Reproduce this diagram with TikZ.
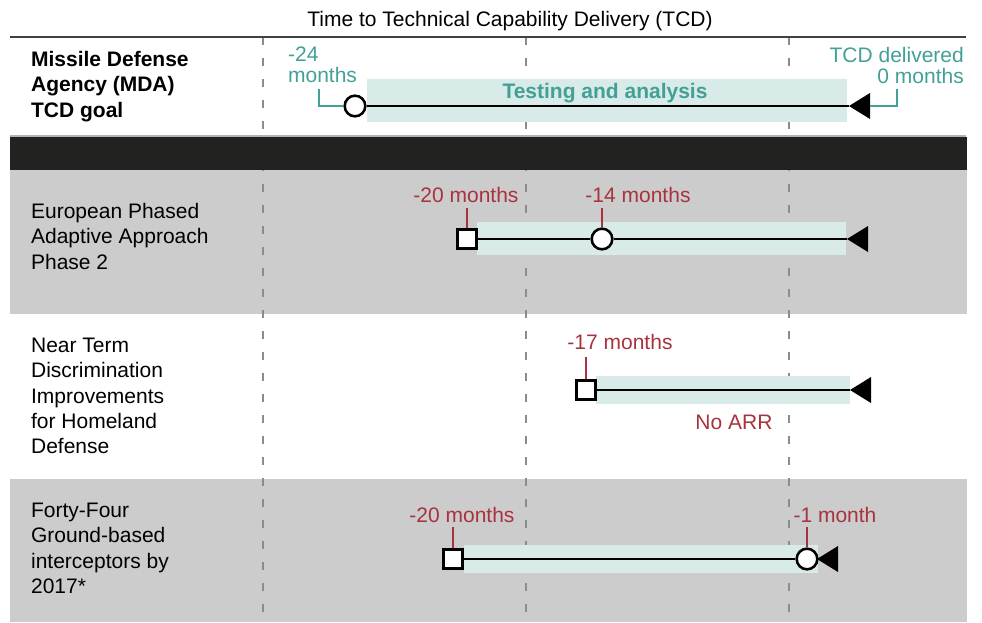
\documentclass[tikz,border=0pt]{standalone}
\usepackage{fontspec}
\setmainfont{Liberation Sans}
\usetikzlibrary{shapes.geometric}
\usetikzlibrary{calc}
\definecolor{tealtext}{HTML}{43A096}
\definecolor{tealfill}{HTML}{D8EBE8}
\definecolor{redtext}{HTML}{A8323E}
\definecolor{rowgray}{HTML}{CCCCCC}
\definecolor{barblack}{HTML}{222320}
\tikzset{every picture/.style={line width=1.7pt}}

\begin{document}
\begin{tikzpicture}[x=0.75pt, y=-0.75pt,
  every node/.style={font=\fontsize{15.75}{19}\selectfont, inner sep=0pt},
  ring/.style={draw, circle, fill=white, minimum size=15.5pt, line width=1.9pt},
  sqbox/.style={draw, rectangle, fill=white, minimum size=14.25pt, line width=2pt},
  endtri/.style={isosceles triangle, shape border rotate=180, isosceles triangle stretches,
    fill=black, outer sep=0pt, minimum width=19.5pt, minimum height=15.75pt, anchor=apex},
  rowlab/.style={anchor=north west, align=left},
  redlab/.style={text=redtext, anchor=base},
  redtick/.style={draw=redtext, line width=1.5pt},
  tealline/.style={draw=tealtext, line width=1.5pt}]

\useasboundingbox (0,0) rectangle (982,622);

% rows, grid and header
\foreach \y / \h in {170/314, 479/622}
  \fill[rowgray] (10,\y) rectangle (967,\h);
\foreach \x in {263,526,789}
  \draw[black!45, line width=1pt, dash pattern=on 6pt off 9.75pt] (\x,37) -- (\x,622);
\fill[barblack] (10,137) rectangle (967,170);
\draw[black!75, line width=1.5pt] (10,37) -- (966,37);
\draw[black!30, line width=1.5pt] (10,136) -- (966,136);

\node (title) at (510,26) [anchor=base] {Time to Technical Capability Delivery (TCD)};

% MDA goal
\node (mda) at (30,50) [rowlab, font=\fontsize{15.75}{19}\selectfont\bfseries] {Missile Defense\\Agency (MDA)\\TCD goal};
\fill[tealfill] (367,79) rectangle (847,122);
\node (g0) at (355,106) [ring] {};
\node (t0) at (849,106) [endtri] {};
\draw (g0) -- (t0.apex);
\node (m24) at (287,46) [anchor=north west, align=left, text=tealtext, font=\fontsize{15.75}{15.75}\selectfont] {-24\\months};
\node (m0) at (965,46) [anchor=north east, align=right, text=tealtext, font=\fontsize{15.75}{15.75}\selectfont] {TCD delivered\\0 months};
\draw[tealline] (g0.west) -- (319,106) -- (319,89);
\draw[tealline] ($(t0.apex)+(21,0)$) -- (897,106) -- (897,89);
\node (testing) at (605,98) [anchor=base, text=tealtext, font=\fontsize{15.75}{19}\selectfont\bfseries] {Testing and analysis};

% EPAA phase 2
\node (epaa) at (30,202) [rowlab] {European Phased\\Adaptive Approach\\Phase 2};
\fill[tealfill] (477,222) rectangle (846,255);
\node (s1) at (467,239) [sqbox] {};
\node (c1) at (602,239) [ring] {};
\node (t1) at (847,239) [endtri] {};
\draw (s1) -- (c1) -- (t1.apex);
\node (l1a) at (466,202) [redlab] {-20 months};
\node (l1b) at (638,202) [redlab] {-14 months};
\draw[redtick] (s1.north) -- ($(s1.north |- l1a.base)+(0,6)$);
\draw[redtick] (c1.north) -- ($(c1.north |- l1b.base)+(0,6)$);

% near term discrimination
\node (ntd) at (30,337) [rowlab] {Near Term\\Discrimination\\Improvements\\for Homeland\\Defense};
\fill[tealfill] (596,376) rectangle (850,404);
\node (s2) at (586,390) [sqbox] {};
\node (t2) at (850,390) [endtri] {};
\draw (s2) -- (t2.apex);
\node (l2a) at (620,349) [redlab] {-17 months};
\draw[redtick] (s2.north) -- ($(s2.north |- l2a.base)+(0,8)$);
\node (noarr) at (734,429) [redlab] {No ARR};

% forty-four GBIs
\node (gbi) at (30,502) [rowlab] {Forty-Four\\Ground-based\\interceptors by\\2017*};
\fill[tealfill] (464,545) rectangle (818,573);
\node (s3) at (453,559) [sqbox] {};
\node (c3) at (807,559) [ring] {};
\node (t3) at (817,559) [endtri] {};
\draw (s3) -- (c3);
\node (l3a) at (462,522) [redlab] {-20 months};
\node (l3b) at (835,522) [redlab] {-1 month};
\draw[redtick] (s3.north) -- ($(s3.north |- l3a.base)+(0,5)$);
\draw[redtick] (c3.north) -- ($(c3.north |- l3b.base)+(0,5)$);

\end{tikzpicture}
\end{document}
